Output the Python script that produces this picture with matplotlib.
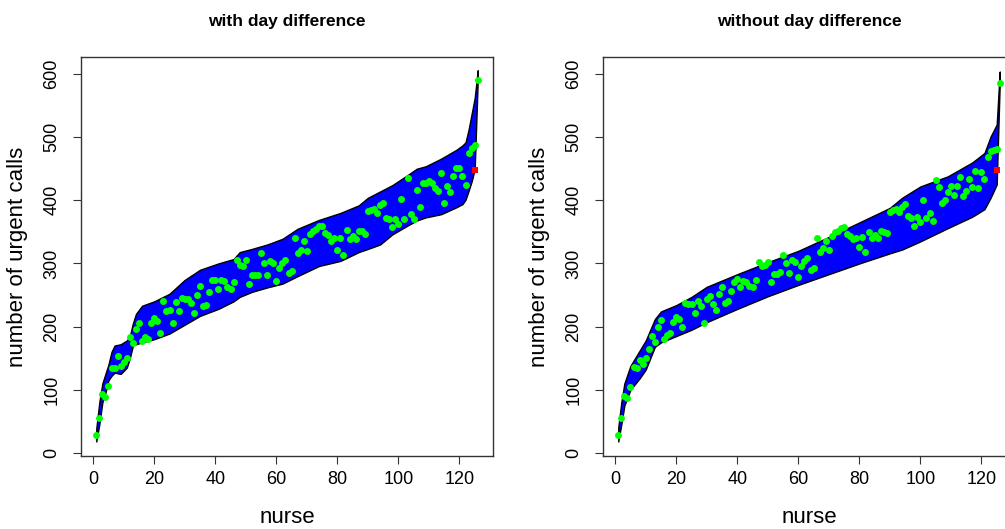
import numpy as np
import matplotlib
matplotlib.use("Agg")
import matplotlib.pyplot as plt

plt.rcParams['font.family'] = ['Liberation Sans', 'DejaVu Sans']

# band edges (nurse index, lower, upper) - left panel
band_x_left = [1, 2, 3, 4, 5, 6, 7, 9, 11, 12, 13, 14, 16, 20, 25, 30, 35, 41, 46, 48, 52, 57, 62,
               67, 74, 81, 87, 90, 94, 98, 103, 106, 109, 114, 119, 121, 122, 123, 124, 125, 126]
band_lo_left = [18, 45, 80, 95, 115, 122, 127, 125, 135, 150, 170, 172, 175, 180, 189, 203, 217, 228, 240, 247, 255, 262, 268,
                280, 296, 304, 318, 323, 330, 346, 360, 368, 373, 378, 389, 394, 401, 415, 430, 449, 590]
band_hi_left = [38, 80, 110, 125, 140, 160, 170, 172, 178, 185, 205, 220, 233, 240, 252, 274, 290, 300, 307, 318, 323, 330, 339,
                355, 369, 380, 392, 404, 414, 424, 440, 450, 454, 466, 480, 487, 492, 512, 537, 562, 606]

# observed values per nurse - left panel
calls_left = [28, 55, 93, 88, 106, 134, 135, 154, 138, 144, 150, 183, 174, 196, 206, 177, 183, 180, 206, 213,
              209, 190, 241, 225, 227, 206, 239, 225, 246,
              243, 243, 238, 222, 250, 264, 233, 234, 254, 273, 274, 259, 274, 272, 262, 259, 270, 305, 297, 296,
              306, 267, 281, 281, 281, 316, 301, 281, 304, 300, 272, 293, 301,
              306, 285, 288, 341, 317, 322, 335, 320, 346, 351, 354, 359, 360, 348, 345, 335, 341, 322, 341, 314,
              353, 338, 344, 338, 351, 351, 346, 383, 385, 386, 380,
              392, 396, 372, 370, 357, 371, 362, 402, 370, 435, 379, 370, 417, 390, 428, 428, 430, 428, 420, 414,
              443, 395, 423, 413, 438, 451, 451, 438, 425, 475, 483, 487,
              590]

# band edges - right panel
band_x_right = [1, 2, 3, 5, 8, 10, 13, 15, 20, 25, 30, 40, 50, 60, 70, 80, 90, 94, 100, 109, 117, 121, 123, 125, 126]
band_lo_right = [18, 45, 75, 100, 118, 132, 168, 175, 185, 195, 207, 228, 248, 266, 283, 300, 316, 322, 335, 356, 374,
                 386, 404, 425, 586]
band_hi_right = [40, 80, 110, 138, 162, 178, 212, 224, 234, 247, 263, 283, 302, 320, 342, 365, 388, 404, 422, 438, 460,
                 475, 501, 520, 604]

# observed values per nurse - right panel
calls_right = [28, 55, 90, 87, 104, 136, 135, 147, 140, 150, 164, 185, 176, 200, 210, 180, 186, 190, 208, 215,
               212, 200, 238, 235, 236, 222, 240, 232, 205,
               243, 248, 236, 226, 252, 262, 238, 240, 256, 270, 276, 262, 272, 270, 265, 262, 274, 302, 296, 298,
               303, 270, 284, 283, 286, 314, 300, 285, 305, 302, 278, 296, 304,
               308, 290, 292, 340, 318, 324, 336, 322, 344, 350, 352, 356, 358, 346, 343, 338, 340, 326, 342, 318,
               350, 340, 345, 340, 352, 350, 348, 382, 384, 386, 382,
               390, 394, 375, 372, 360, 373, 365, 400, 372, 380, 368,
               432, 421, 395, 400, 413, 423, 409, 423, 437, 407, 415, 433, 421, 446, 420, 445, 433, 469, 478, 480,
               482, 586]

red_x = 125
red_y = [448, 448]

titles = ["with day difference", "without day difference"]

fig = plt.figure(figsize=(10.05, 5.29), dpi=100)
ax_left = fig.add_axes([81 / 1005, 1 - 456 / 529, 412 / 1005, 399 / 529])
ax_right = fig.add_axes([603 / 1005, 1 - 456 / 529, 412 / 1005, 399 / 529])

panels = [
    (ax_left, band_x_left, band_lo_left, band_hi_left, calls_left, red_y[0], titles[0]),
    (ax_right, band_x_right, band_lo_right, band_hi_right, calls_right, red_y[1], titles[1]),
]

for ax, bx, blo, bhi, calls, ry, title in panels:
    ax.fill_between(bx, blo, bhi, facecolor='#0000FF', edgecolor='black', linewidth=1.0, zorder=2)
    nurse = np.arange(1, len(calls) + 1)
    ax.plot(nurse, calls, 'o', color='#00FF00', markersize=5, markeredgewidth=0, zorder=3)
    ax.plot([red_x], [ry], 's', color='#FF0000', markersize=5, markeredgewidth=0, zorder=4)

    ax.set_xlim(-4, 131)
    ax.set_ylim(-5, 627)
    ax.set_xticks([0, 20, 40, 60, 80, 100, 120])
    ax.set_yticks([0, 100, 200, 300, 400, 500, 600])
    ax.tick_params(axis='both', direction='out', length=6, width=0.8, color='#333333', labelsize=13)
    ax.tick_params(axis='x', pad=5)
    ax.tick_params(axis='y', pad=9, labelrotation=90)
    for lbl in ax.get_yticklabels():
        lbl.set_va('center')
    for sp in ax.spines.values():
        sp.set_color('#333333')
        sp.set_linewidth(1.0)

    ax.text(0.5, 1.088, title, transform=ax.transAxes, ha='center', va='center',
            fontsize=12.5, fontweight='bold')
    ax.text(0.5, -0.153, 'nurse', transform=ax.transAxes, ha='center', va='center', fontsize=16)
    ax.text(-0.153, 0.5, 'number of urgent calls', transform=ax.transAxes, ha='center', va='center',
            rotation=90, fontsize=16)

fig.savefig('out.png', dpi=100)
